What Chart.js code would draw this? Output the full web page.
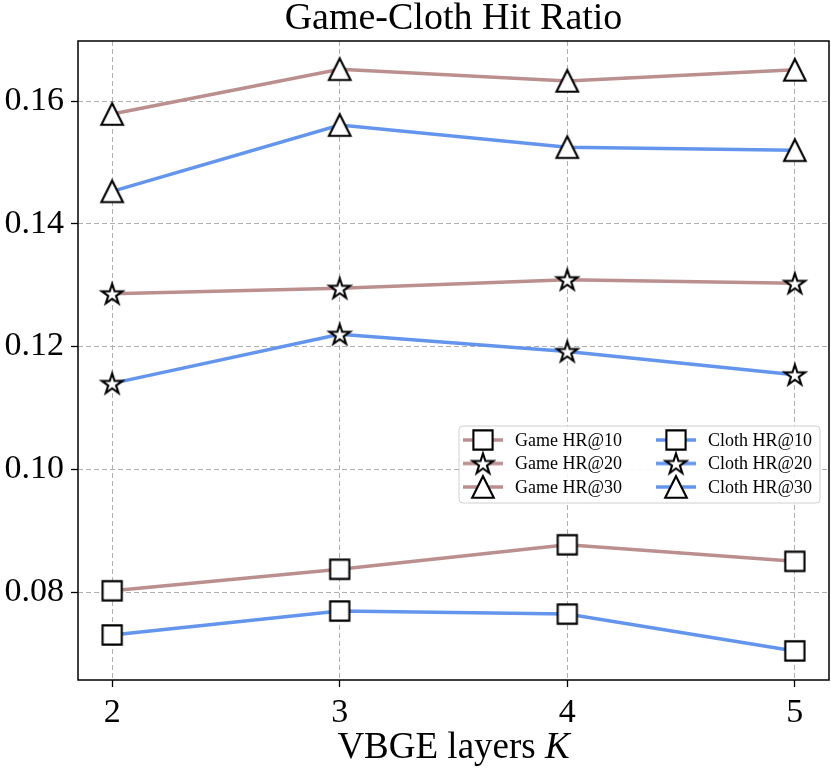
<!DOCTYPE html>
<html>
<head>
<meta charset="utf-8">
<script src="https://cdn.jsdelivr.net/npm/chart.js@4.4.1/dist/chart.umd.min.js"></script>
<style>
    html, body { margin: 0; padding: 0; background: #fff; }
    #wrap { width: 831px; height: 771px; }
</style>
</head>
<body>
<div id="wrap"><canvas id="hitChart"></canvas></div>
<script>
// --- data ---
const layers = [2, 3, 4, 5];
const gameHR10 = [0.0802, 0.0837, 0.0877, 0.0850];
const gameHR20 = [0.1286, 0.1295, 0.1309, 0.1303];
const gameHR30 = [0.1579, 0.1652, 0.1633, 0.1651];
const clothHR10 = [0.0730, 0.0769, 0.0764, 0.0704];
const clothHR20 = [0.1140, 0.1220, 0.1192, 0.1154];
const clothHR30 = [0.1453, 0.1561, 0.1525, 0.1520];
const xTicks = [2, 3, 4, 5];
const yTicks = [0.08, 0.10, 0.12, 0.14, 0.16];

const GAME = 'rgb(188, 143, 143)';
const CLOTH = 'rgb(100, 149, 237)';
const SERIF = '"Liberation Serif", "Times New Roman", serif';

// --- marker images (matplotlib-like hollow markers) ---
function markerPath(ctx, shape, cx, cy) {
    ctx.beginPath();
    if (shape === 'square') {
        const h = 9.6;
        ctx.rect(cx - h, cy - h, 2 * h, 2 * h);
    } else if (shape === 'triangle') {
        const h = 10.8;
        ctx.moveTo(cx, cy - h);
        ctx.lineTo(cx + h, cy + h);
        ctx.lineTo(cx - h, cy + h);
        ctx.closePath();
    } else {
        const R = 10.8, r = R * 0.381966;
        for (let i = 0; i < 10; i++) {
            const a = -Math.PI / 2 + i * Math.PI / 5;
            const rad = i % 2 === 0 ? R : r;
            const px = cx + rad * Math.cos(a);
            const py = cy + rad * Math.sin(a) + 0.8;
            if (i === 0) ctx.moveTo(px, py); else ctx.lineTo(px, py);
        }
        ctx.closePath();
    }
}

function makeMarker(shape, lineColor) {
    const c = document.createElement('canvas');
    const w = lineColor ? 44 : 28;
    c.width = w;
    c.height = 28;
    const ctx = c.getContext('2d');
    if (lineColor) {
        ctx.strokeStyle = lineColor;
        ctx.lineWidth = 3.3;
        ctx.beginPath();
        ctx.moveTo(2, 14);
        ctx.lineTo(w - 2, 14);
        ctx.stroke();
    }
    markerPath(ctx, shape, w / 2, 14);
    ctx.fillStyle = '#fff';
    ctx.fill();
    ctx.lineWidth = 2.1;
    ctx.lineJoin = 'miter';
    ctx.strokeStyle = '#000';
    ctx.stroke();
    return c;
}

function series(label, values, color, shape) {
    return {
        label: label,
        data: layers.map((k, i) => ({ x: k, y: values[i] })),
        borderColor: color,
        backgroundColor: color,
        borderWidth: 3.5,
        pointStyle: makeMarker(shape),
        legendStyle: makeMarker(shape, color),
        pointRadius: 12,
        pointHoverRadius: 12,
        tension: 0
    };
}

// --- legend drawn inside the axes, two columns like matplotlib ---
const innerLegend = {
    id: 'innerLegend',
    afterDraw(chart) {
        const ctx = chart.ctx;
        const sets = chart.data.datasets;
        const box = { x: 459, y: 426, w: 361, h: 77 };
        ctx.save();
        ctx.beginPath();
        ctx.roundRect(box.x, box.y, box.w, box.h, 4);
        ctx.fillStyle = 'rgba(255,255,255,0.9)';
        ctx.fill();
        ctx.strokeStyle = '#d0d0d0';
        ctx.lineWidth = 1;
        ctx.stroke();
        ctx.font = '18px ' + SERIF;
        ctx.fillStyle = '#000';
        ctx.textBaseline = 'middle';
        sets.forEach((ds, i) => {
            const col = Math.floor(i / 3);
            const row = i % 3;
            const mx = col === 0 ? 483 : 676;
            const my = 440 + row * 23.5;
            const img = ds.legendStyle;
            ctx.drawImage(img, mx - img.width / 2, my - img.height / 2);
            ctx.fillText(ds.label, mx + 32, my + 1);
        });
        ctx.restore();
    }
};

// --- full frame + x-axis title with italic K ---
const frameAndTitle = {
    id: 'frameAndTitle',
    afterDatasetsDraw(chart) {
        const { ctx, chartArea: a } = chart;
        ctx.save();
        ctx.strokeStyle = '#000';
        ctx.lineWidth = 1.5;
        ctx.strokeRect(a.left, a.top, a.right - a.left, a.bottom - a.top);
        ctx.restore();
    },
    afterDraw(chart) {
        const { ctx, chartArea: a } = chart;
        const plain = 'VBGE layers ';
        const ital = 'K';
        ctx.save();
        ctx.fillStyle = '#000';
        ctx.textBaseline = 'alphabetic';
        ctx.font = '37px ' + SERIF;
        const w1 = ctx.measureText(plain).width;
        ctx.font = 'italic 37px ' + SERIF;
        const w2 = ctx.measureText(ital).width;
        const x0 = (a.left + a.right) / 2 - (w1 + w2) / 2;
        const base = 758;
        ctx.font = '37px ' + SERIF;
        ctx.fillText(plain, x0, base);
        ctx.font = 'italic 37px ' + SERIF;
        ctx.fillText(ital, x0 + w1, base);
        ctx.restore();
    }
};

const gridCommon = {
    color: '#b0b0b0',
    lineWidth: 1,
    borderDash: [5, 3],
    drawTicks: true,
    tickLength: 7,
    tickColor: '#000',
    tickWidth: 1.3,
    tickBorderDash: [0, 0]
};

new Chart(document.getElementById('hitChart'), {
    type: 'line',
    data: {
        datasets: [
            series('Game HR@10', gameHR10, GAME, 'square'),
            series('Game HR@20', gameHR20, GAME, 'star'),
            series('Game HR@30', gameHR30, GAME, 'triangle'),
            series('Cloth HR@10', clothHR10, CLOTH, 'square'),
            series('Cloth HR@20', clothHR20, CLOTH, 'star'),
            series('Cloth HR@30', clothHR30, CLOTH, 'triangle')
        ]
    },
    options: {
        responsive: true,
        maintainAspectRatio: false,
        animation: false,
        layout: { autoPadding: false, padding: { left: 0, right: 2, top: 0, bottom: 0 } },
        scales: {
            x: {
                type: 'linear',
                min: 1.85,
                max: 5.15,
                afterBuildTicks: s => { s.ticks = xTicks.map(v => ({ value: v })); },
                afterFit: s => {
                    s.height = 91;
                    s.paddingLeft = 0;
                    s.paddingRight = 0;
                },
                grid: gridCommon,
                border: { display: false, dash: [5, 3] },
                ticks: {
                    color: '#000',
                    padding: 6,
                    font: { family: SERIF, size: 34 },
                    callback: v => String(v)
                }
            },
            y: {
                type: 'linear',
                min: 0.06566,
                max: 0.1698,
                afterBuildTicks: s => { s.ticks = yTicks.map(v => ({ value: v })); },
                afterFit: s => {
                    s.width = 78;
                    s.paddingTop = 0;
                    s.paddingBottom = 0;
                },
                grid: gridCommon,
                border: { display: false, dash: [5, 3] },
                ticks: {
                    color: '#000',
                    padding: 7,
                    font: { family: SERIF, size: 34 },
                    callback: v => v.toFixed(2)
                }
            }
        },
        plugins: {
            legend: { display: false },
            tooltip: { enabled: false },
            title: {
                display: true,
                text: 'Game-Cloth Hit Ratio',
                fullSize: false,
                color: '#000',
                font: { family: SERIF, size: 38, weight: 'normal', lineHeight: 1.0 },
                padding: { top: 0, bottom: 3 }
            }
        }
    },
    plugins: [innerLegend, frameAndTitle]
});
</script>
</body>
</html>
